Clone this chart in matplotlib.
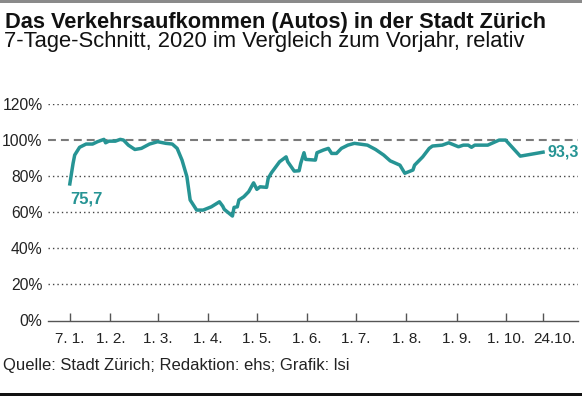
import numpy as np
import pandas as pd
import matplotlib; matplotlib.use("Agg")
import matplotlib.pyplot as plt
import matplotlib.dates as mdates
import matplotlib.transforms as mtransforms
from matplotlib.patches import Rectangle

# 7-day average traffic, 2020 vs previous year, in percent
dates = ["01-07","01-09","01-10","01-13","01-17","01-21","01-24","01-28","01-29","01-31",
         "02-04","02-07","02-09","02-12","02-16","02-20","02-25","03-01","03-06","03-10",
         "03-13","03-16","03-19","03-21","03-25","03-29","04-03","04-08","04-10","04-11",
         "04-13","04-16","04-17","04-19","04-20","04-23","04-26","04-29","05-01","05-03",
         "05-07","05-08","05-10","05-15","05-19","05-20","05-24","05-27","05-28","05-30",
         "05-31","06-06","06-07","06-11","06-14","06-16","06-19","06-22","06-26","06-30",
         "07-08","07-13","07-18","07-22","07-28","07-31","08-05","08-06","08-11","08-15",
         "08-17","08-23","08-27","09-02","09-05","09-08","09-10","09-12","09-20","09-27",
         "10-01","10-10","10-24"]
values = [75.7, 87.1, 91.7, 96.0, 97.8, 97.8, 99.1, 100.4, 98.5, 99.4,
          99.4, 100.4, 100.0, 97.2, 94.8, 95.4, 97.8, 99.1, 98.2, 97.8,
          95.4, 88.9, 79.7, 66.8, 61.2, 61.2, 63.0, 65.8, 63.4, 61.6,
          60.1, 57.9, 62.7, 63.0, 66.8, 68.6, 71.4, 76.3, 72.7, 74.1,
          73.8, 78.8, 81.9, 88.0, 90.7, 88.0, 82.8, 83.0, 87.1, 93.0,
          89.3, 88.9, 93.0, 94.5, 95.4, 92.6, 92.6, 95.4, 97.2, 98.2,
          97.2, 94.8, 91.7, 88.5, 86.1, 81.6, 83.4, 86.1, 90.7, 95.4,
          96.7, 97.2, 98.5, 96.3, 97.2, 97.2, 96.0, 97.2, 97.2, 100.0,
          100.0, 91.1, 93.3]
tick_dates = ["01-07","02-01","03-01","04-01","05-01","06-01","07-01","08-01","09-01","10-01","10-24"]
tick_labels = ["7. 1.","1. 2.","1. 3.","1. 4.","1. 5.","1. 6.","1. 7.","1. 8.","1. 9.","1. 10.","24.10."]
y_ticks = [0, 20, 40, 60, 80, 100, 120]

TEAL = "#269494"
FONT = "Liberation Sans"
plt.rcParams["font.family"] = [FONT, "DejaVu Sans"]

x = pd.to_datetime(["2020-" + d for d in dates])
xt = pd.to_datetime(["2020-" + d for d in tick_dates])

fig = plt.figure(figsize=(5.82, 3.96), dpi=100)
ax = fig.add_axes([48/582, 75.5/396, 530/582, 216.5/396])

# gridlines
for v in y_ticks[1:]:
    if v == 100:
        ax.axhline(v, color="#7a7a7a", lw=1.5, ls=(0, (3.8, 2.4)), zorder=1)
    else:
        ax.axhline(v, color="#444444", lw=1.0, ls=(0, (1, 2.2)), zorder=1)

ax.plot(x, values, color=TEAL, lw=2.5, solid_joinstyle="round", zorder=3)

ax.text(x[0], 67.5, "75,7", color=TEAL, fontsize=12, fontweight="bold",
        ha="left", va="center")
ax.annotate("93,3", (x[-1], values[-1]), xytext=(3.5, 0), textcoords="offset points",
            color=TEAL, fontsize=11.5, fontweight="bold", ha="left", va="center")

ax.set_ylim(0, 120)
ax.set_xlim(pd.Timestamp("2019-12-24 14:00"), pd.Timestamp("2020-11-14 12:00"))
ax.set_yticks(y_ticks)
ax.set_yticklabels([f"{v}%" for v in y_ticks])
ax.set_xticks(xt)
ax.set_xticklabels(tick_labels)

for s in ["top", "right", "left"]:
    ax.spines[s].set_visible(False)
ax.spines["bottom"].set_color("#555555")
ax.spines["bottom"].set_linewidth(1.0)
ax.tick_params(axis="x", direction="in", length=6, width=1, color="#555555",
               pad=8, labelsize=11, labelcolor="#222222")
ax.tick_params(axis="y", length=0, pad=4, labelsize=11.3, labelcolor="#222222")

# last tick label sits a little right of its tick
lab = ax.get_xticklabels()[-1]
lab.set_transform(lab.get_transform() + mtransforms.ScaledTranslation(11/100, 0, fig.dpi_scale_trans))

fig.text(5/582, 1 - 28/396, "Das Verkehrsaufkommen (Autos) in der Stadt Zürich",
         fontsize=15.7, fontweight="bold", ha="left", va="baseline", color="#111111")
fig.text(4/582, 1 - 47/396, "7-Tage-Schnitt, 2020 im Vergleich zum Vorjahr, relativ",
         fontsize=15.8, ha="left", va="baseline", color="#111111")
fig.text(3/582, 1 - 370/396, "Quelle: Stadt Zürich; Redaktion: ehs; Grafik: lsi",
         fontsize=12, ha="left", va="baseline", color="#222222")

fig.add_artist(Rectangle((0, 1 - 2.5/396), 1, 2.5/396, transform=fig.transFigure,
                         color="#8a8a8a", lw=0))
fig.add_artist(Rectangle((0, 0), 1, 3.5/396, transform=fig.transFigure,
                         color="#111111", lw=0))

fig.savefig("out.png", dpi=100)
